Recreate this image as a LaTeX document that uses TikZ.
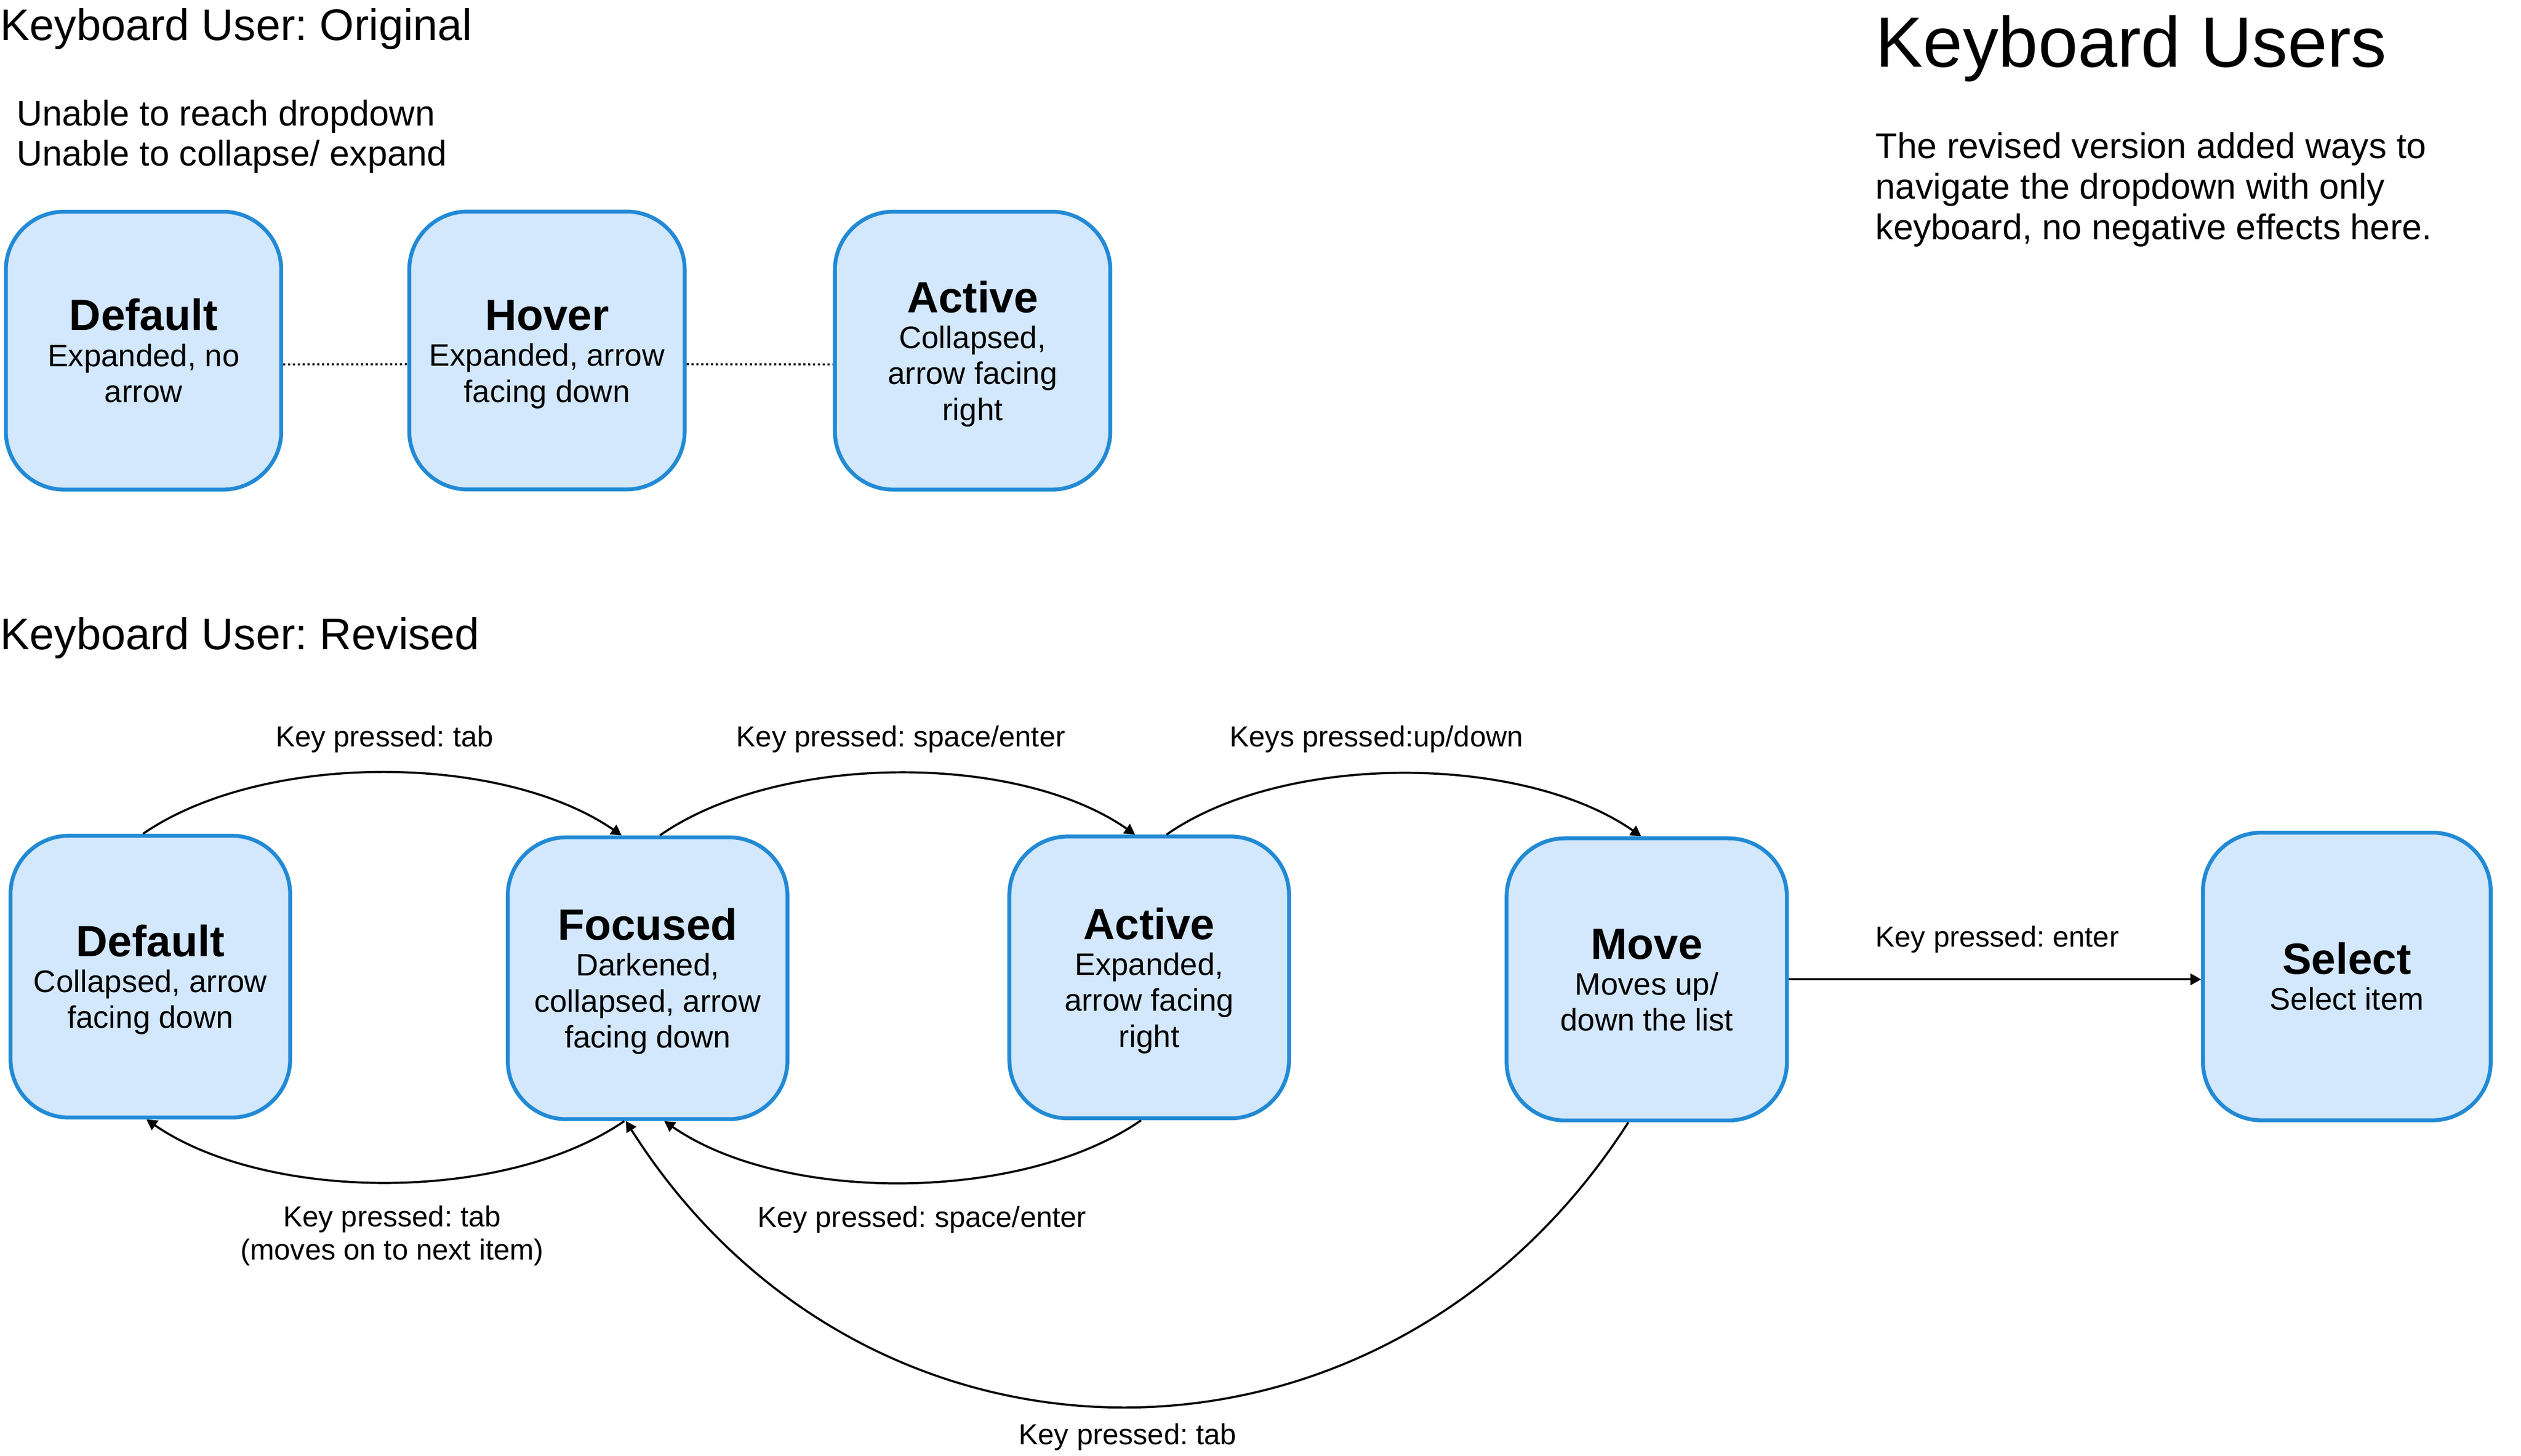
\documentclass[tikz,border=0pt]{standalone}
\usepackage{fontspec}
\setmainfont{Liberation Sans}
\usetikzlibrary{arrows.meta}
\usetikzlibrary{calc}

\definecolor{stateblue}{HTML}{228AD5}
\definecolor{statefill}{HTML}{D3E7FD}
\setlength{\lineskiplimit}{-100pt}
\frenchspacing

\tikzset{
  statebox/.style={draw=stateblue, fill=statefill, line width=2.4pt,
    rounded corners=36pt, minimum width=172.6pt, minimum height=174pt,
    inner sep=0pt, align=center, execute at end node=\strut,
    font=\fontsize{19.2}{22.2}\selectfont},
  keyarrow/.style={-{Triangle[length=6.5pt,width=7pt]}, line width=1.3pt},
  dotline/.style={line width=1.3pt, dash pattern=on 1.3pt off 1.7pt},
  keylabel/.style={anchor=base, inner sep=0pt, font=\fontsize{17.9}{20.5}\selectfont},
  heading/.style={anchor=base west, inner sep=0pt, font=\fontsize{27.3}{30}\selectfont},
}
\newcommand{\statetitle}[1]{{\fontsize{27}{22.2}\selectfont\bfseries\rule{0pt}{26pt}#1}}

\begin{document}
\begin{tikzpicture}[x=1pt,y=-1pt]
    \useasboundingbox (0,0) rectangle (1556,898.7);
    %original
    \node[heading] (origtitle) at (0,25) {Keyboard User: Original};
    \node[anchor=base west, inner sep=0pt, align=left, font=\fontsize{22}{24.7}\selectfont]
        (orignote) at (10.2,102.2) {Unable to reach dropdown\\Unable to collapse/ expand};
    \node[statebox, minimum width=170pt, minimum height=171.6pt] (odefault) at (88.6,216.5)
        {\statetitle{Default}\\Expanded, no\\arrow};
    \node[statebox, minimum width=170pt, minimum height=171.6pt] (ohover) at (337.6,216.4)
        {\statetitle{Hover}\\Expanded, arrow\\facing down};
    \node[statebox, minimum width=170pt, minimum height=171.6pt] (oactive) at (600.3,216.5)
        {\statetitle{Active}\\Collapsed,\\arrow facing\\right};
    \draw[dotline] ($(odefault.east)+(0,8.5)$) -- ($(ohover.west)+(0,8.5)$);
    \draw[dotline] ($(ohover.east)+(0,8.5)$) -- ($(oactive.west)+(0,8.5)$);
    %summary
    \node[anchor=base west, inner sep=0pt, font=\fontsize{44}{48}\selectfont]
        (kbtitle) at (1157.5,41.5) {Keyboard Users};
    \node[anchor=base west, inner sep=0pt, align=left, font=\fontsize{22}{25}\selectfont]
        (kbnote) at (1157.5,147.8) {The revised version added ways to\\navigate the dropdown with only\\keyboard, no negative effects here.};
    %revised
    \node[heading] (revtitle) at (0,401) {Keyboard User: Revised};
    \node[statebox] (rdefault) at (92.8,603)
        {\statetitle{Default}\\Collapsed, arrow\\facing down};
    \node[statebox] (rfocused) at (399.7,604)
        {\statetitle{Focused}\\Darkened,\\collapsed, arrow\\facing down};
    \node[statebox] (ractive) at (709.3,603.5)
        {\statetitle{Active}\\Expanded,\\arrow facing\\right};
    \node[statebox, minimum width=173pt, minimum height=174.2pt] (rmove) at (1016.4,604.7)
        {\statetitle{Move}\\Moves up/\\down the list};
    \node[statebox, minimum width=177.6pt, minimum height=177.6pt] (rselect) at (1448.5,602.9)
        {\statetitle{Select}\\Select item};
    %transitions
    \draw[keyarrow] ($(rdefault.north)+(-4.5,0)$) .. controls +(74,-51) and +(-74,-51) .. ($(rfocused.north)+(-16,0)$);
    \draw[keyarrow] ($(rfocused.north)+(7.6,0)$) .. controls +(73,-51) and +(-73,-51) .. ($(ractive.north)+(-8.7,0)$);
    \draw[keyarrow] ($(ractive.north)+(10.7,0)$) .. controls +(73,-51) and +(-73,-51) .. ($(rmove.north)+(-3.4,0)$);
    \draw[keyarrow] ($(rfocused.south)+(-14.4,0)$) .. controls +(-74,51) and +(74,51) .. ($(rdefault.south)+(-2.4,0)$);
    \draw[keyarrow] ($(ractive.south)+(-5,0)$) .. controls +(-73.5,51) and +(73.5,51) .. ($(rfocused.south)+(10.3,0)$);
    \draw[keyarrow] ($(rmove.south)+(-11.4,0)$) .. controls (855,927) and (535,927) .. ($(rfocused.south)+(-13.4,0)$);
    \draw[keyarrow] (rmove.east) -- (rmove.east -| rselect.west);
    %labels
    \node[keylabel] (ltab) at (237.3,461) {Key pressed: tab};
    \node[keylabel] (lspace) at (556,461) {Key pressed: space/enter};
    \node[keylabel] (lupdown) at (849.6,461) {Keys pressed:up/down};
    \node[keylabel] (lenter) at (1232.7,584.5) {Key pressed: enter};
    \node[keylabel, align=center] (ltabnext) at (242,777.8) {Key pressed: tab\\(moves on to next item)};
    \node[keylabel] (lspaceback) at (569,757.7) {Key pressed: space/enter};
    \node[keylabel] (ltabback) at (696,891.8) {Key pressed: tab};
\end{tikzpicture}
\end{document}
